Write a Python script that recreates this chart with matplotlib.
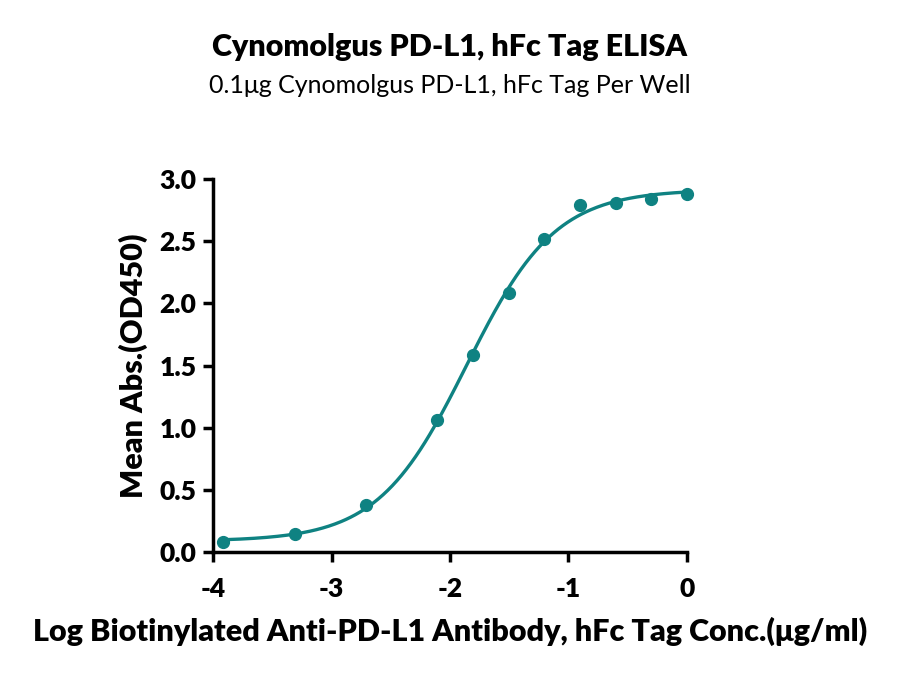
"""
plot.py

ELISA binding curve: Cynomolgus PD-L1, hFc Tag.
"""

import numpy as np
import matplotlib
matplotlib.use("Agg")
import matplotlib.pyplot as plt

plt.rcParams["font.family"] = ["Lato", "DejaVu Sans"]
plt.rcParams["axes.unicode_minus"] = False

# datos
log_conc = [-3.913, -3.311, -2.709, -2.107, -1.806, -1.505, -1.204, -0.903, -0.602, -0.301, 0.0]
od450 = [0.08, 0.145, 0.38, 1.06, 1.585, 2.08, 2.52, 2.79, 2.81, 2.84, 2.88]

x_ticks = [-4, -3, -2, -1, 0]
y_ticks = [0.0, 0.5, 1.0, 1.5, 2.0, 2.5, 3.0]

color = "#0f8282"


def ajuste_4pl(x, y):
    """
    Ajuste logistico de 4 parametros (busqueda en rejilla para EC50 y
    pendiente, minimos cuadrados lineales para base y techo).
    """
    x = np.asarray(x)
    y = np.asarray(y)
    mejor = None
    for ec in np.linspace(-3, -1, 201):
        for h in np.linspace(0.3, 3, 136):
            s = 1.0 / (1.0 + 10 ** ((ec - x) * h))
            A = np.column_stack([np.ones_like(s), s])
            coef, *_ = np.linalg.lstsq(A, y, rcond=None)
            err = np.sum((A @ coef - y) ** 2)
            if mejor is None or err < mejor[0]:
                mejor = (err, ec, h, coef)
    _, ec, h, coef = mejor

    def f(t):
        return coef[0] + coef[1] / (1.0 + 10 ** ((ec - t) * h))

    return f


curva = ajuste_4pl(log_conc, od450)
xs = np.linspace(min(log_conc), max(log_conc), 300)

fig = plt.figure(figsize=(9, 6.76), dpi=100)
ax = fig.add_axes([0.2367, 0.1834, 0.5266, 0.5518])

ax.plot(xs, curva(xs), color=color, linewidth=2.4, zorder=2)
ax.plot(log_conc, od450, "o", color=color, markersize=8.5, zorder=3,
        clip_on=False)

ax.set_xlim(-4, 0)
ax.set_ylim(0, 3.0)
ax.set_xticks(x_ticks)
ax.set_yticks(y_ticks)
ax.set_xticklabels([str(t) for t in x_ticks])
ax.set_yticklabels([f"{t:.1f}" for t in y_ticks])

for lado in ["top", "right"]:
    ax.spines[lado].set_visible(False)
for lado in ["left", "bottom"]:
    ax.spines[lado].set_linewidth(2.5)

ax.tick_params(direction="out", length=7, width=2.5, labelsize=19, pad=5)
ax.tick_params(axis="x", pad=11)
for lbl in ax.get_xticklabels() + ax.get_yticklabels():
    lbl.set_fontweight("heavy")

ax.set_xlabel("Log Biotinylated Anti-PD-L1 Antibody, hFc Tag Conc.(\u03bcg/ml)",
              fontsize=22, fontweight="heavy", labelpad=11.5)
ax.set_ylabel("Mean Abs.(OD450)", fontsize=22, fontweight="heavy", labelpad=8)

fig.text(0.5, 0.930, "Cynomolgus PD-L1, hFc Tag ELISA", ha="center",
         va="center", fontsize=22, fontweight="heavy")
fig.text(0.5, 0.874, "0.1\u03bcg Cynomolgus PD-L1, hFc Tag Per Well",
         ha="center", va="center", fontsize=18)

fig.savefig("out.png", dpi=100)
plt.close(fig)
